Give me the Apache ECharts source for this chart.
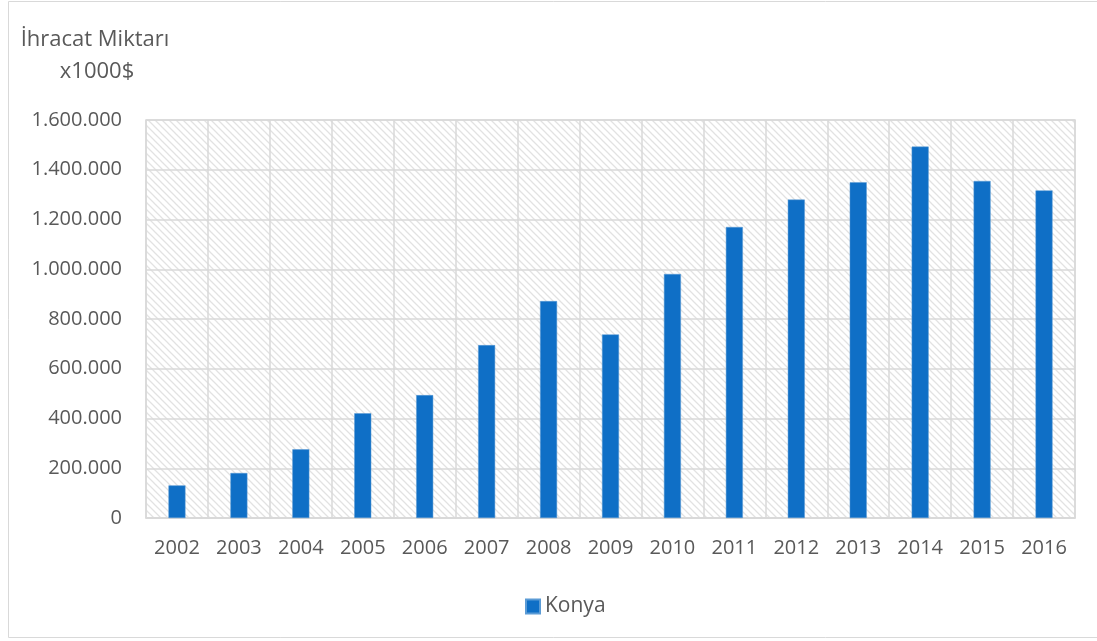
<!DOCTYPE html>
<html>
<head>
<meta charset="utf-8">
<script src="https://cdn.jsdelivr.net/npm/echarts@6/dist/echarts.min.js"></script>
<style>
  html, body { margin: 0; padding: 0; background: #fff; }
  #chart { width: 1097px; height: 641px; }
</style>
</head>
<body>
<div id="chart"></div>
<script>
// Konya export amounts (x1000 $) by year
const years = ['2002', '2003', '2004', '2005', '2006', '2007', '2008', '2009',
               '2010', '2011', '2012', '2013', '2014', '2015', '2016'];
const konya = [131000, 181000, 276000, 421000, 494000, 695000, 872000, 738000,
               981000, 1170000, 1280000, 1350000, 1493000, 1355000, 1317000];
const seriesName = 'Konya';
const axisTitle = ['İhracat Miktarı', 'x1000$'];

const FONT = '"Open Sans", sans-serif';
const TEXT = '#595959';
const GRID = '#d9d9d9';

// light downward-diagonal hatch used as the plot background
function hatchPattern() {
  const c = document.createElement('canvas');
  const s = 7;
  c.width = s; c.height = s;
  const g = c.getContext('2d');
  g.fillStyle = '#ffffff';
  g.fillRect(0, 0, s, s);
  g.strokeStyle = '#e2e2e2';
  g.lineWidth = 1.3;
  g.beginPath();
  g.moveTo(-1, -1); g.lineTo(s + 1, s + 1);
  g.moveTo(-1 - s, -1); g.lineTo(1, s + 1);
  g.moveTo(s - 1, -1); g.lineTo(2 * s + 1, s + 1);
  g.stroke();
  return c;
}

// thousands separated with dots
function fmt(v) {
  return String(v).replace(/\B(?=(\d{3})+(?!\d))/g, '.');
}

const chart = echarts.init(document.getElementById('chart'));
chart.setOption({
  animation: false,
  backgroundColor: '#ffffff',
  textStyle: { fontFamily: FONT },
  grid: {
    left: 146, right: 22, top: 120, bottom: 123,
    show: true,
    backgroundColor: { image: hatchPattern(), repeat: 'repeat' },
    borderColor: GRID,
    borderWidth: 1.5
  },
  graphic: [
    {
      type: 'rect',
      shape: { x: 8.5, y: 1.5, width: 1200, height: 636 },
      style: { fill: 'none', stroke: '#d9d9d9', lineWidth: 1 },
      silent: true
    },
    {
      type: 'text',
      x: 95, y: 40,
      style: {
        text: axisTitle[0], fill: TEXT, font: '22px ' + FONT,
        align: 'center', verticalAlign: 'middle'
      }
    },
    {
      type: 'text',
      x: 97, y: 72,
      style: {
        text: axisTitle[1], fill: TEXT, font: '22px ' + FONT,
        align: 'center', verticalAlign: 'middle'
      }
    }
  ],
  legend: {
    data: [seriesName],
    left: 520, top: 591,
    itemWidth: 14, itemHeight: 14, itemGap: 6,
    icon: 'rect',
    textStyle: { color: TEXT, fontSize: 21, fontFamily: FONT }
  },
  xAxis: {
    type: 'category',
    data: years,
    boundaryGap: true,
    axisLine: { lineStyle: { color: GRID, width: 1.5 } },
    axisTick: { show: false, interval: 0 },
    axisLabel: { color: TEXT, fontSize: 20, fontFamily: FONT, margin: 20, interval: 0 },
    splitLine: { show: true, interval: 0, lineStyle: { color: GRID, width: 1.5 } }
  },
  yAxis: {
    type: 'value',
    min: 0, max: 1600000, interval: 200000,
    axisLine: { show: false },
    axisTick: { show: false },
    axisLabel: { color: TEXT, fontSize: 20, fontFamily: FONT, margin: 24, formatter: fmt },
    splitLine: { show: true, lineStyle: { color: GRID, width: 1.5 } }
  },
  series: [{
    name: seriesName,
    type: 'bar',
    data: konya,
    barWidth: 17,
    itemStyle: { color: '#0f6fc6', borderColor: '#5b9bd5', borderWidth: 0.5 }
  }]
});
</script>
</body>
</html>
